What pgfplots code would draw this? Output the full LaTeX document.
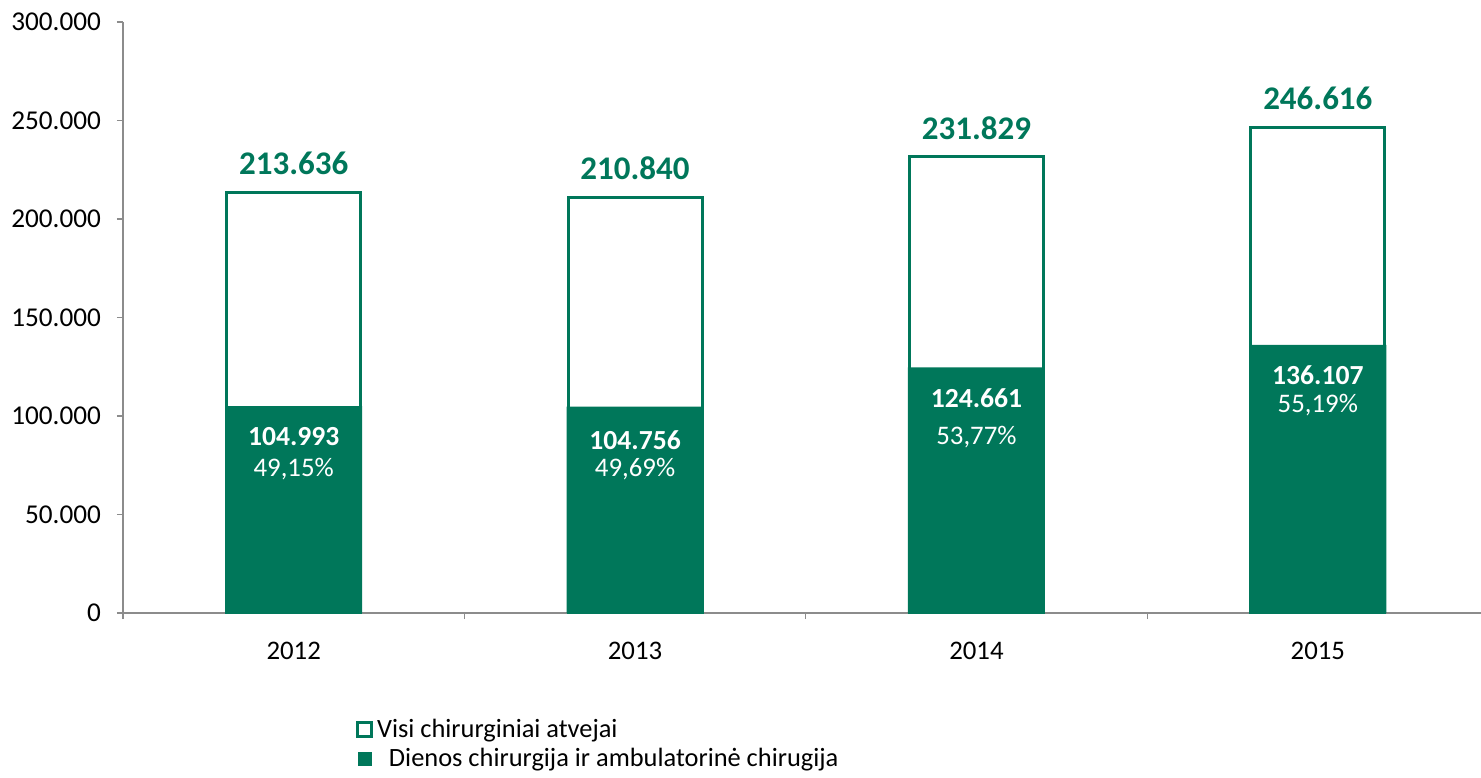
\documentclass[border=0pt]{standalone}
\usepackage{pgfplots}
\pgfplotsset{compat=1.18}
\usepackage{fontspec}
\setmainfont{Carlito}
\definecolor{grn}{RGB}{0,119,90}
\definecolor{axgray}{RGB}{140,140,140}
\begin{document}
\begin{tikzpicture}
\begin{axis}[
  scale only axis,
  width=679pt, height=295.5pt,
  xmin=-0.5, xmax=3.478,
  ymin=0, ymax=300000,
  ytick={0,50000,100000,150000,200000,250000,300000},
  scaled y ticks=false,
  yticklabel={\pgfmathprintnumber[fixed,precision=0,1000 sep={.},assume math mode=true]{\tick}},
  yticklabel style={font=\fontsize{13.6}{15}\selectfont, xshift=-4.5pt},
  xtick={0,1,2,3},
  xticklabels={2012,2013,2014,2015},
  xticklabel style={font=\fontsize{13.4}{15}\selectfont, yshift=-8pt},
  minor xtick={-0.5,0.5,1.5,2.5},
  major x tick style={draw=none},
  tick pos=left,
  tick align=outside,
  major tick length=3pt,
  minor tick length=3pt,
  tick style={axgray, line width=0.6pt},
  axis line style={axgray, line width=0.6pt},
  axis x line*=bottom,
  axis y line*=left,
  legend cell align=left,
  legend style={at={(0.17,-0.168)}, anchor=north west, draw=none,
    font=\fontsize{13.2}{14}\selectfont, row sep=0pt, inner sep=1pt,
    /tikz/every even column/.append style={column sep=2pt}},
]
\addplot[ybar, bar width=67pt, bar shift=0pt, draw=grn, fill=white, line width=1.5pt,
  legend image code/.code={\draw[grn, fill=white, line width=1.4pt] (0pt,-3.5pt) rectangle (7pt,3.5pt);}]
  coordinates {(0,213636) (1,210840) (2,231829) (3,246616)};
\addlegendentry{Visi chirurginiai atvejai}
\addplot[ybar, bar width=68.5pt, bar shift=0pt, draw=none, fill=grn,
  legend image code/.code={\fill[grn] (0pt,-3.5pt) rectangle (7.2pt,3.5pt);}]
  coordinates {(0,104993) (1,104756) (2,124661) (3,136107)};
\addlegendentry{\ \ Dienos chirurgija ir ambulatorinė chirugija}

\begin{scope}[every node/.style={font=\bfseries\fontsize{16.5}{18}\selectfont, text=grn}]
\node at (axis cs:0,228426) {213.636};
\node at (axis cs:1,225888) {210.840};
\node at (axis cs:2,246193) {231.829};
\node at (axis cs:3,261421) {246.616};
\end{scope}
\begin{scope}[every node/.style={font=\bfseries\fontsize{13.8}{15}\selectfont, text=white}]
\node at (axis cs:0,89340) {104.993};
\node at (axis cs:1,87817) {104.756};
\node at (axis cs:2,109137) {124.661};
\node at (axis cs:3,120812) {136.107};
\end{scope}
\begin{scope}[every node/.style={font=\fontsize{13.4}{15}\selectfont, text=white}]
\node at (axis cs:0,73096) {49,15\%};
\node at (axis cs:1,73096) {49,69\%};
\node at (axis cs:2,89340) {53,77\%};
\node at (axis cs:3,105584) {55,19\%};
\end{scope}
\end{axis}
\pgfresetboundingbox
\useasboundingbox (-61.5pt,-82pt) rectangle (679pt,306.5pt);
\end{tikzpicture}
\end{document}
